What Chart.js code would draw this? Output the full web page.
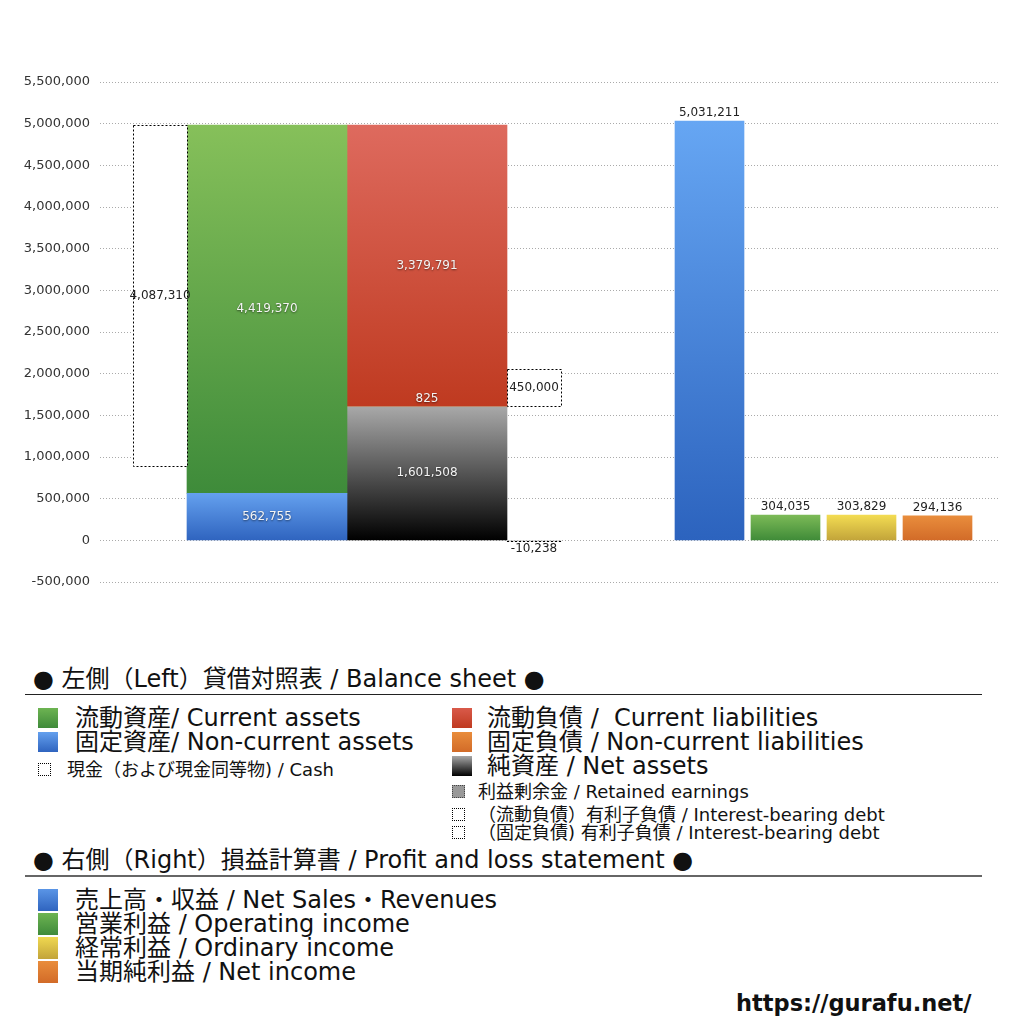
<!DOCTYPE html>
<html>
<head>
<meta charset="utf-8">
<script src="https://cdn.jsdelivr.net/npm/chart.js@4.4.0/dist/chart.umd.min.js"></script>
<style>
  body { margin: 0; background: #fff; width: 1024px; height: 1024px; overflow: hidden; position: relative;
         font-family: "DejaVu Sans", "Noto Sans CJK JP", sans-serif; color: #111; }
  #wrap { position: absolute; left: 0; top: 0; width: 1024px; height: 620px; }
  .t { position: absolute; white-space: nowrap; line-height: 1; }
  .big { font-size: 24px; }
  .small { font-size: 18px; }
  .head { font-size: 24px; }
  .sw { position: absolute; width: 20px; height: 20px; }
  .sws { position: absolute; width: 13px; height: 13px; box-sizing: border-box; }
  .dash { border: 1px dotted #000; background: #fff; }
  .rule { position: absolute; left: 25px; width: 957px; height: 1px; background: #222; }
</style>
</head>
<body>
<div id="wrap"><canvas id="c"></canvas></div>

<div class="t head" style="left:33px; top:667px;">● 左側（Left）貸借対照表 / Balance sheet ●</div>
<div class="rule" style="top:694px;"></div>

<div class="sw" style="left:38px; top:708px; background:linear-gradient(#6db452,#3f8a3a);"></div>
<div class="t big" style="left:75px; top:706px;">流動資産/ Current assets</div>
<div class="sw" style="left:38px; top:732px; background:linear-gradient(#64a0ee,#2f64bf);"></div>
<div class="t big" style="left:75px; top:730px;">固定資産/ Non-current assets</div>
<div class="sws dash" style="left:38px; top:763px;"></div>
<div class="t small" style="left:67px; top:761px;">現金（および現金同等物) / Cash</div>

<div class="sw" style="left:452px; top:708px; background:linear-gradient(#d95a4a,#bf3a20);"></div>
<div class="t big" style="left:487px; top:706px;">流動負債 /&nbsp; Current liabilities</div>
<div class="sw" style="left:452px; top:732px; background:linear-gradient(#e98d3c,#d26b28);"></div>
<div class="t big" style="left:487px; top:730px;">固定負債 / Non-current liabilities</div>
<div class="sw" style="left:452px; top:756px; background:linear-gradient(#a8a8a8,#000);"></div>
<div class="t big" style="left:487px; top:754px;">純資産 / Net assets</div>
<div class="sws" style="left:452px; top:785px; background:#999; border:1px dotted #444;"></div>
<div class="t small" style="left:478px; top:783px;">利益剰余金 / Retained earnings</div>
<div class="sws dash" style="left:452px; top:808px;"></div>
<div class="t small" style="left:478px; top:806px;">（流動負債）有利子負債 / Interest-bearing debt</div>
<div class="sws dash" style="left:452px; top:826px;"></div>
<div class="t small" style="left:478px; top:824px;">（固定負債) 有利子負債 / Interest-bearing debt</div>

<div class="t head" style="left:33px; top:848px;">● 右側（Right）損益計算書 / Profit and loss statement ●</div>
<div class="rule" style="top:875px; background:#666; height:1.5px;"></div>

<div class="sw" style="left:38px; top:889px; height:22px; background:linear-gradient(#5a95e6,#2f64bf);"></div>
<div class="t big" style="left:75px; top:888px;">売上高・収益 / Net Sales・Revenues</div>
<div class="sw" style="left:38px; top:913px; height:22px; background:linear-gradient(#6db452,#3f8a3a);"></div>
<div class="t big" style="left:75px; top:912px;">営業利益 / Operating income</div>
<div class="sw" style="left:38px; top:937px; height:22px; background:linear-gradient(#f0d850,#c2a43a);"></div>
<div class="t big" style="left:75px; top:936px;">経常利益 / Ordinary income</div>
<div class="sw" style="left:38px; top:961px; height:22px; background:linear-gradient(#e98d3c,#d26b28);"></div>
<div class="t big" style="left:75px; top:960px;">当期純利益 / Net income</div>

<div class="t" style="left:736px; top:992px; font-size:22.5px; font-weight:bold;">https://gurafu.net/</div>

<script>
// 貸借対照表 (left side)
const cash = 4087310;
const currentAssets = 4419370;
const nonCurrentAssets = 562755;
const currentLiabilities = 3379791;
const nonCurrentLiabilities = 825;
const netAssets = 1601508;
const interestBearingDebt = 450000;
const retainedEarnings = -10238;

// 損益計算書 (right side)
const plLabels = ['売上高・収益', '営業利益', '経常利益', '当期純利益'];
const plValues = [5031211, 304035, 303829, 294136];

// y axis
const yMin = -500000;
const yMax = 5500000;
const yStep = 500000;

// horizontal layout of the columns (chart area is 900 wide)
const layout = {
  leftGap: 33, cash: 54, assets: 160, liabilities: 160, debt: 54, midGap: 114, plBar: 69, plGap: 7
};
let cursor = layout.leftGap;
function column(w) { const c = cursor + w / 2; cursor += w; return c; }
const xCash = column(layout.cash);
const xAssets = column(layout.assets);
const xLiab = column(layout.liabilities);
const xDebt = column(layout.debt);
cursor += layout.midGap;
const xPl = plValues.map((v, i) => { if (i) cursor += layout.plGap; return column(layout.plBar); });

function grad(top, bottom) {
  return (c) => {
    const chart = c.chart;
    if (c.type !== 'data' || !chart.chartArea) return bottom;
    const y = chart.scales.y;
    const [lo, hi] = c.raw.y;
    const g = chart.ctx.createLinearGradient(0, y.getPixelForValue(hi), 0, y.getPixelForValue(lo));
    g.addColorStop(0, top);
    g.addColorStop(1, bottom);
    return g;
  };
}

const totalAssets = currentAssets + nonCurrentAssets;
const liabBase = netAssets + nonCurrentLiabilities;

function bar(x, lo, hi, width, fill, extra) {
  return Object.assign({
    data: [{ x: x, y: [lo, hi] }],
    barThickness: width,
    backgroundColor: fill,
    borderWidth: 0,
    labelValue: hi - lo,
    labelPos: 'center',
    labelColor: '#f4f4f4',
    labelShadow: true
  }, extra || {});
}

const datasets = [
  bar(xCash, totalAssets - cash, totalAssets, layout.cash, '#ffffff',
      { dashed: true, labelColor: '#222', labelShadow: false }),
  bar(xAssets, 0, nonCurrentAssets, layout.assets, grad('#64a0ee', '#2f64bf')),
  bar(xAssets, nonCurrentAssets, totalAssets, layout.assets, grad('#86c05a', '#3e8b3a')),
  bar(xLiab, 0, netAssets, layout.liabilities, grad('#a8a8a8', '#000000')),
  bar(xLiab, netAssets, liabBase, layout.liabilities, grad('#e98d3c', '#d26b28'), { labelPos: 'above' }),
  bar(xLiab, liabBase, liabBase + currentLiabilities, layout.liabilities, grad('#de6a5e', '#bf3a20')),
  bar(xDebt, liabBase, liabBase + interestBearingDebt, layout.debt, '#ffffff',
      { dashed: true, labelColor: '#222', labelShadow: false }),
  bar(xDebt, retainedEarnings, 0, layout.debt, '#bbbbbb',
      { dashed: true, labelValue: retainedEarnings, labelPos: 'below', labelColor: '#222', labelShadow: false })
];

const plColors = [['#66a6f3', '#2c63be'], ['#7cba57', '#3f8b38'], ['#f3dc52', '#c2a43a'], ['#e98d3c', '#d26b28']];
plValues.forEach((v, i) => {
  datasets.push(bar(xPl[i], 0, v, layout.plBar, grad(plColors[i][0], plColors[i][1]),
    { label: plLabels[i], labelPos: 'above', labelColor: '#222', labelShadow: false }));
});

const fmt = (n) => n.toLocaleString('en-US');

const boxPlugin = {
  id: 'boxes',
  afterDatasetsDraw(chart) {
    const ctx = chart.ctx;
    chart.data.datasets.forEach((ds, i) => {
      chart.getDatasetMeta(i).data.forEach((el) => {
        const p = el.getProps(['x', 'y', 'base', 'width'], true);
        const top = Math.min(p.y, p.base), bottom = Math.max(p.y, p.base);
        const left = p.x - p.width / 2;
        ctx.save();
        if (ds.dashed) {
          ctx.setLineDash([2, 2]);
          ctx.lineWidth = 1;
          ctx.strokeStyle = '#000';
          if (bottom - top < 2) {
            ctx.beginPath();
            ctx.moveTo(Math.round(left), Math.round(bottom) + 0.5);
            ctx.lineTo(Math.round(left + p.width), Math.round(bottom) + 0.5);
            ctx.stroke();
          } else {
            ctx.strokeRect(Math.round(left) + 0.5, Math.round(top) + 0.5, Math.round(p.width), Math.round(bottom - top));
          }
        }
        ctx.setLineDash([]);
        ctx.font = '12px "DejaVu Sans", sans-serif';
        ctx.textAlign = 'center';
        ctx.textBaseline = 'middle';
        ctx.fillStyle = ds.labelColor;
        if (ds.labelShadow) {
          ctx.shadowColor = 'rgba(0,0,0,0.55)';
          ctx.shadowBlur = 2;
          ctx.shadowOffsetY = 1;
        }
        let ty = (top + bottom) / 2;
        if (ds.labelPos === 'above') ty = top - 8;
        if (ds.labelPos === 'below') ty = bottom + 8;
        ctx.fillText(fmt(ds.labelValue), p.x, ty);
        ctx.restore();
      });
    });
  }
};

new Chart(document.getElementById('c'), {
  type: 'bar',
  data: { datasets: datasets },
  options: {
    responsive: true,
    maintainAspectRatio: false,
    animation: false,
    grouped: false,
    layout: { padding: { top: 82, right: 24, bottom: 38, left: 0 } },
    plugins: { legend: { display: false }, tooltip: { enabled: false } },
    scales: {
      x: { type: 'linear', display: false, offset: false, min: 0, max: 900 },
      y: {
        min: yMin,
        max: yMax,
        afterFit: (s) => { s.width = 100; },
        ticks: {
          stepSize: yStep,
          padding: 10,
          color: '#333',
          font: { size: 13, family: '"DejaVu Sans", sans-serif' },
          callback: (v) => fmt(v)
        },
        grid: { color: '#aaa', drawTicks: false },
        border: { display: false, dash: [1, 2] }
      }
    }
  },
  plugins: [boxPlugin]
});
</script>
</body>
</html>
